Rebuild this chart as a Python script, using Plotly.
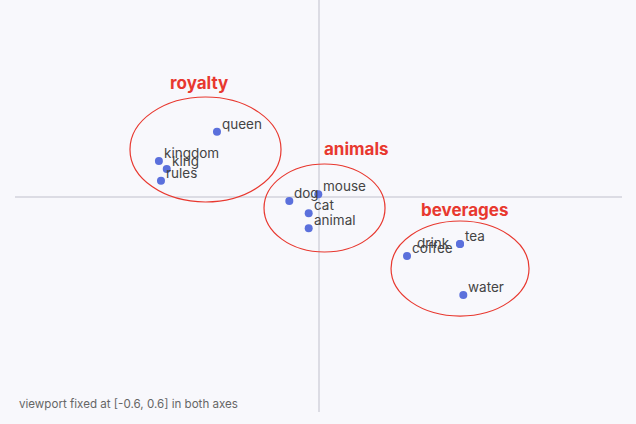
import plotly.graph_objects as go

# word embedding points
words = ["queen", "kingdom", "king", "rules", "dog", "mouse", "cat", "animal",
         "tea", "drink", "coffee", "water"]
xs = [-0.2007, -0.3155, -0.3000, -0.3114, -0.0577, -0.0004, -0.0194, -0.0194,
      0.2798, 0.2798, 0.1750, 0.2863]
ys = [0.1822, 0.1007, 0.0781, 0.0455, -0.0112, 0.0075, -0.0455, -0.0871,
      -0.1312, -0.1312, -0.1647, -0.2735]
label_side = ["right"] * 9 + ["left"] + ["right", "right"]

# groups
group_names = ["royalty", "animals", "beverages"]
group_cx = [-0.2234, 0.0119, 0.2798]
group_cy = [0.1326, -0.0307, -0.1996]
group_rx = [0.1493, 0.1196, 0.1364]
group_ry = [0.1465, 0.1228, 0.1326]
label_x = [-0.2353, 0.0761, 0.2896]
label_y = [0.318, 0.134, -0.0363]

RED = "#e8382f"
FONT = "Inter, sans-serif"

fig = go.Figure()
fig.add_trace(go.Scatter(
    x=xs, y=ys, mode="markers", text=words,
    marker=dict(size=8, color="#5b70dc"),
    hoverinfo="text", showlegend=False,
))

for w, x, y, side in zip(words, xs, ys, label_side):
    if side == "right":
        fig.add_annotation(x=x, y=y, text=w, showarrow=False, xanchor="left",
                           yanchor="middle", xshift=3, yshift=8,
                           font=dict(size=13.5, color="#444444", family=FONT))
    else:
        fig.add_annotation(x=x, y=y, text=w, showarrow=False, xanchor="right",
                           yanchor="middle", xshift=-8, yshift=1,
                           font=dict(size=13.5, color="#444444", family=FONT))

for name, cx, cy, rx, ry, lx, ly in zip(group_names, group_cx, group_cy, group_rx,
                                         group_ry, label_x, label_y):
    fig.add_shape(type="circle", xref="x", yref="y",
                  x0=cx - rx, x1=cx + rx, y0=cy - ry, y1=cy + ry,
                  line=dict(color=RED, width=1.2))
    fig.add_annotation(x=lx, y=ly, text=f"<b>{name}</b>", showarrow=False,
                       font=dict(size=17, color=RED, family=FONT))

fig.add_annotation(xref="paper", yref="paper", x=0.003, y=0.02, xanchor="left",
                   yanchor="middle", showarrow=False,
                   text="viewport fixed at [-0.6, 0.6] in both axes",
                   font=dict(size=11.6, color="#666666", family=FONT))

fig.update_layout(
    width=636, height=424,
    margin=dict(l=15, r=14, t=0, b=12),
    paper_bgcolor="#f8f8fc", plot_bgcolor="#f8f8fc",
    font=dict(family=FONT),
    xaxis=dict(range=[-0.6, 0.6], showgrid=False, showticklabels=False,
               zeroline=True, zerolinecolor="#dcdce4", zerolinewidth=1.5,
               showline=False, ticks=""),
    yaxis=dict(range=[-0.6, 0.5498], showgrid=False, showticklabels=False,
               zeroline=True, zerolinecolor="#dcdce4", zerolinewidth=1.5,
               showline=False, ticks=""),
)

fig.write_html("out.html", config={"displayModeBar": False},
               post_script="document.body.style.margin='0';document.body.style.background='#f8f8fc';")
